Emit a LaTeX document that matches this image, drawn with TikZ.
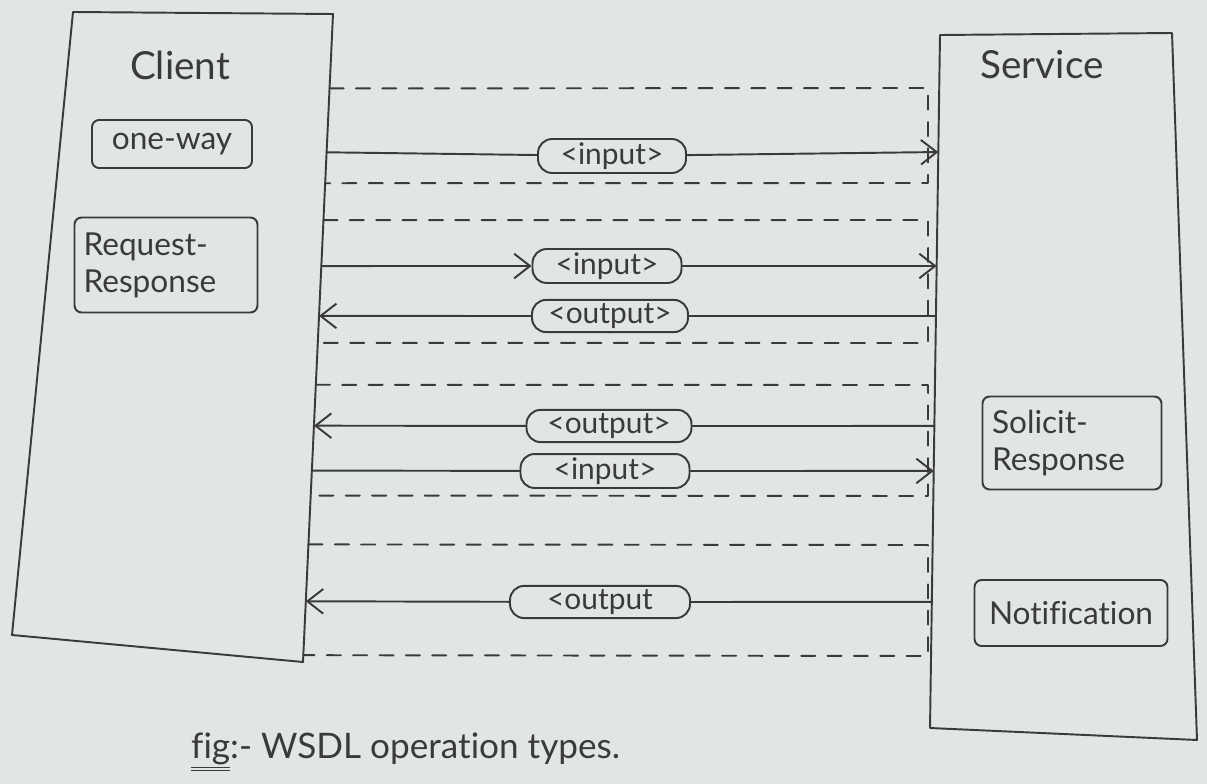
\documentclass[tikz,border=0pt]{standalone}
\usepackage{fontspec}
\setmainfont{Lato}[Ligatures=NoCommon]
\usetikzlibrary{arrows.meta,calc}
\definecolor{paper}{HTML}{E1E5E5}
\definecolor{ink}{HTML}{3A3A3C}
\tikzset{
  pen/.style={line width=1.1pt, line cap=round, line join=round},
  dashline/.style={pen, dash pattern=on 8pt off 7pt},
  tip/.style={-{Straight Barb[length=9pt,width=14pt,line width=1.1pt]}},
  opbox/.style={draw, pen, rounded corners=4pt, inner sep=4pt,
    font=\fontsize{18}{21}\selectfont},
  msg/.style={draw, pen, rounded corners=8pt, inner sep=2pt, fill=paper,
    minimum height=0.6cm, font=\fontsize{17}{19}\selectfont},
  title/.style={font=\fontsize{22}{26}\selectfont}
}
\begin{document}
\begin{tikzpicture}[x=0.02cm,y=-0.02cm,color=ink]
\fill[paper] (0,0) rectangle (1207,784);
\useasboundingbox (0,0) rectangle (1207,784);

% client and service boxes
\coordinate (CTL) at (73,12);  \coordinate (CTR) at (333,14);
\coordinate (CBR) at (303,662);\coordinate (CBL) at (12,635);
\coordinate (STL) at (940,35); \coordinate (STR) at (1172,33);
\coordinate (SBR) at (1197,740);\coordinate (SBL) at (930,728);
\draw[pen] (CTL) -- (CTR) -- (CBR) -- (CBL) -- cycle;
\draw[pen] (STL) -- (STR) -- (SBR) -- (SBL) -- cycle;

\node[title] (client) at (180,65) {Client};
\node[title] (service) at (1042,65) {Service};

\node[opbox, minimum width=3.2cm, minimum height=0.96cm] (oneway) at (172,144) {one-way};
\node[opbox, minimum width=3.66cm, minimum height=1.9cm, align=left, text width=3.3cm]
  (reqresp) at (166,265) {Request-\\Response};
\node[opbox, minimum width=3.58cm, minimum height=1.86cm, align=left, text width=3.2cm]
  (solresp) at (1072,443) {Solicit-\\Response};
\node[opbox, minimum width=3.86cm, minimum height=1.32cm] (notif) at (1071,613) {Notification};

% end points of the messages on both boxes
\foreach \n/\y in {1/152,2/266,3/316,4/426,5/471,6/602}{
  \coordinate (L\n) at ($(CTR)!(320,\y)!(CBR)$);
  \coordinate (R\n) at ($(STL)!(936,\y)!(SBL)$);
}
% operation groups: dashed frames
\foreach \g/\t/\b in {1/88/183,2/220/343,3/385/496,4/545/656}{
  \coordinate (GT\g) at ($(CTR)!(320,\t)!(CBR)$);
  \coordinate (GB\g) at ($(CTR)!(320,\b)!(CBR)$);
  \coordinate (GTR\g) at (928,\t);
  \coordinate (GBR\g) at (928,\b);
  \draw[dashline] (GT\g) -- (GTR\g) -- (GBR\g) -- (GB\g);
}

% messages
\node[msg, minimum width=2.96cm] (m1) at (612,156) {<input>};
\node[msg, minimum width=2.98cm] (m2) at (607,266) {<input>};
\node[msg, minimum width=3.12cm] (m3) at (610,316) {<output>};
\node[msg, minimum width=3.30cm] (m4) at (609,426) {<output>};
\node[msg, minimum width=3.38cm] (m5) at (605,471) {<input>};
\node[msg, minimum width=3.60cm] (m6) at (600,602) {<output};

\draw[pen] (L1) -- (m1);  \draw[pen,tip] (m1) -- (R1);
\draw[pen,tip] (L2) -- (m2);  \draw[pen,tip] (m2) -- (R2);
\draw[pen,tip] (m3) -- (L3);  \draw[pen] (R3) -- (m3);
\draw[pen,tip] (m4) -- (L4);  \draw[pen] (R4) -- (m4);
\draw[pen] (L5) -- (m5);  \draw[pen,tip] (m5) -- (R5);
\draw[pen,tip] (m6) -- (L6);  \draw[pen] (R6) -- (m6);

% caption
\node[font=\fontsize{20}{24}\selectfont, anchor=west] (caption) at (185,752)
  {\underline{\underline{fig}}:- WSDL operation types.};
\end{tikzpicture}
\end{document}
